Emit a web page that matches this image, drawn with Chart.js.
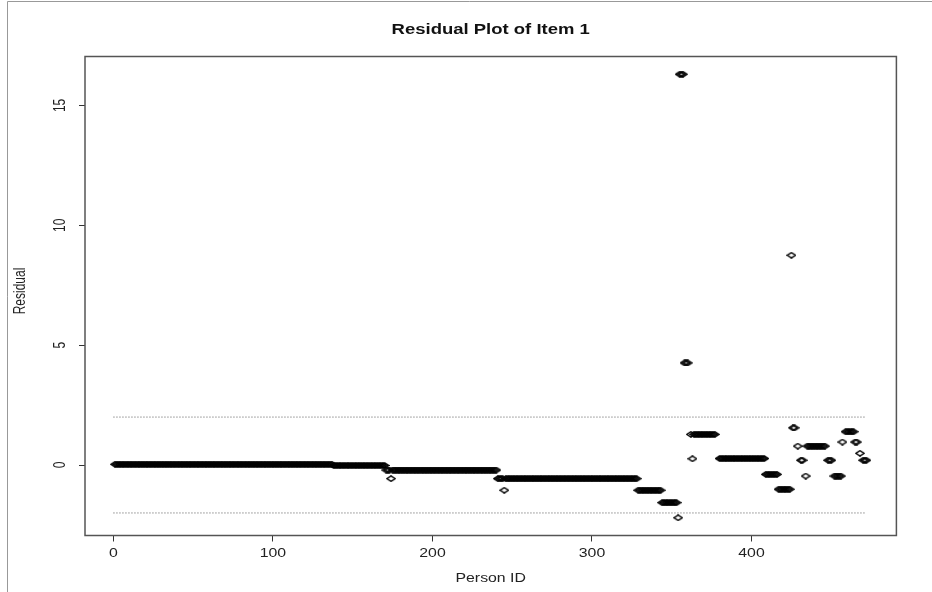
<!DOCTYPE html>
<html>
<head>
<meta charset="utf-8">
<script src="https://cdn.jsdelivr.net/npm/chart.js@4.4.1/dist/chart.umd.min.js"></script>
<style>
  html, body { margin: 0; padding: 0; background: #fff; }
</style>
</head>
<body>
<canvas id="residualPlot" width="932" height="592"></canvas>
<script>
const runStart = [1, 138, 171, 174, 175, 241, 245, 246, 329, 344, 354, 355, 358, 362, 363, 364, 380, 409, 417, 425, 426, 429, 431, 434, 435, 448, 452, 457, 459, 465, 468, 470];
const runEnd   = [137, 170, 173, 174, 240, 244, 245, 328, 343, 353, 354, 357, 360, 362, 363, 377, 408, 416, 424, 425, 427, 429, 432, 434, 446, 450, 456, 457, 464, 466, 468, 472];
const runValue = [0.03, -0.02, -0.21, -0.57, -0.21, -0.57, -1.05, -0.57, -1.05, -1.57, -2.2, 16.3, 4.26, 1.28, 0.26, 1.28, 0.27, -0.39, -1.01, 8.75, 1.55, 0.79, 0.2, -0.46, 0.79, 0.2, -0.46, 0.96, 1.39, 0.96, 0.49, 0.2];

const xTicks = [0, 100, 200, 300, 400];
const yTicks = [0, 5, 10, 15];
const cutoffs = [2, -2];
const cutoffFrom = 0;
const cutoffTo = 472;

const titleText = 'Residual Plot of Item 1';
const xLabel = 'Person ID';
const yLabel = 'Residual';

const points = [];
runStart.forEach((s, i) => {
    for (let id = s; id <= runEnd[i]; id++) points.push({ x: id, y: runValue[i] });
});

// open diamond, a bit wider than tall like the stretched R output
const diamond = document.createElement('canvas');
diamond.width = 10;
diamond.height = 7;
const g = diamond.getContext('2d');
g.strokeStyle = '#000';
g.lineWidth = 1.4;
g.beginPath();
g.moveTo(5, 0.8); g.lineTo(9.2, 3.5); g.lineTo(5, 6.2); g.lineTo(0.8, 3.5);
g.closePath();
g.stroke();

const FONT = "'Liberation Sans', Arial, sans-serif";
const STRETCH = 1.32;   // the source image is wider than tall, text included

const cutoffSets = cutoffs.map(v => ({
    data: [{ x: cutoffFrom, y: v }, { x: cutoffTo, y: v }],
    showLine: true,
    borderColor: '#555',
    borderWidth: 1,
    borderDash: [1, 2],
    pointRadius: 0,
    order: 1,
}));

function wideText(ctx, text, x, y, rot) {
    ctx.save();
    ctx.translate(x, y);
    ctx.scale(STRETCH, 1);
    if (rot) ctx.rotate(rot);
    ctx.fillText(text, 0, 0);
    ctx.restore();
}

const framePlugin = {
    id: 'frame',
    afterDraw(chart) {
        const { ctx, chartArea: a, scales } = chart;
        ctx.save();
        // outer page edge
        ctx.strokeStyle = '#999';
        ctx.lineWidth = 1;
        ctx.beginPath();
        ctx.moveTo(7.5, 592); ctx.lineTo(7.5, 1.5); ctx.lineTo(932, 1.5);
        ctx.stroke();
        // plot box
        ctx.strokeStyle = '#555';
        ctx.lineWidth = 1.5;
        ctx.strokeRect(a.left, a.top, a.right - a.left, a.bottom - a.top);

        ctx.textAlign = 'center';
        ctx.textBaseline = 'middle';
        ctx.fillStyle = '#111';
        ctx.font = 'bold 14px ' + FONT;
        wideText(ctx, titleText, (a.left + a.right) / 2, 30);

        ctx.fillStyle = '#222';
        ctx.font = '12px ' + FONT;
        xTicks.forEach(v => wideText(ctx, String(v), scales.x.getPixelForValue(v), 554));
        yTicks.forEach(v => wideText(ctx, String(v), 61, scales.y.getPixelForValue(v), -Math.PI / 2));
        wideText(ctx, xLabel, (a.left + a.right) / 2, 579);
        wideText(ctx, yLabel, 21, 291, -Math.PI / 2);
        ctx.restore();
    }
};

new Chart(document.getElementById('residualPlot'), {
    type: 'scatter',
    data: {
        datasets: [
            {
                data: points,
                pointStyle: diamond,
                pointRadius: 4,
                borderColor: '#000',
                order: 0,
            },
            ...cutoffSets,
        ]
    },
    options: {
        responsive: false,
        animation: false,
        devicePixelRatio: 1,
        layout: { padding: { left: 0, right: 35.6, top: 56.5, bottom: 0 } },
        plugins: { legend: { display: false }, tooltip: { enabled: false }, title: { display: false } },
        scales: {
            x: {
                type: 'linear',
                min: -17.84,
                max: 490.84,
                afterBuildTicks: s => { s.ticks = xTicks.map(v => ({ value: v })); },
                afterFit: s => { s.height = 56.5; },
                grid: { drawOnChartArea: false, drawTicks: true, tickLength: 6, tickColor: '#333' },
                border: { display: false },
                ticks: { display: false },
            },
            y: {
                type: 'linear',
                min: -2.94,
                max: 17.04,
                afterBuildTicks: s => { s.ticks = yTicks.map(v => ({ value: v })); },
                afterFit: s => { s.width = 85; },
                grid: { drawOnChartArea: false, drawTicks: true, tickLength: 6, tickColor: '#333' },
                border: { display: false },
                ticks: { display: false },
            }
        }
    },
    plugins: [framePlugin]
});
</script>
</body>
</html>
